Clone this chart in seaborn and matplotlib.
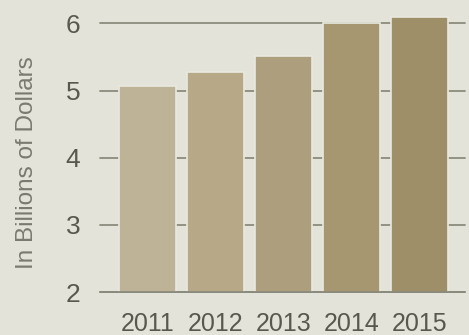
import matplotlib
matplotlib.use("Agg")
import matplotlib.pyplot as plt
import seaborn as sns
import pandas as pd

years = ["2011", "2012", "2013", "2014", "2015"]
values = [5.07, 5.28, 5.52, 6.0, 6.1]
bar_colors = ["#bfb397", "#b7a988", "#ad9f7d", "#a69771", "#9e8f68"]
y_ticks = [2, 3, 4, 5, 6]

df = pd.DataFrame({"year": years, "value": values})

sns.set_theme(style="white")
plt.rcParams["font.family"] = ["Liberation Sans", "DejaVu Sans"]

bg = "#e3e3da"
fig = plt.figure(figsize=(4.69, 3.35), dpi=100, facecolor=bg)
ax = fig.add_axes([0.213, 0.128, 0.778, 0.842])
ax.set_facecolor(bg)

sns.barplot(data=df, x="year", y="value", hue="year", palette=bar_colors,
            legend=False, width=0.84, ax=ax, edgecolor="#e9e9de",
            linewidth=1.2, saturation=1, zorder=2)

for t in y_ticks:
    ax.axhline(t, color="#8b8b7d", lw=1.3, zorder=1, clip_on=False)
ax.axhline(2, color="#8b8b7d", lw=1.3, zorder=3, clip_on=False)

ax.set_ylim(2, 6.2)
ax.set_xlim(-0.7, 4.66)
ax.set_yticks(y_ticks)
ax.set_yticklabels([str(t) for t in y_ticks])
for s in ax.spines.values():
    s.set_visible(False)
ax.tick_params(axis="y", length=0, pad=14, labelsize=19, labelcolor="#58584f")
ax.tick_params(axis="x", length=0, pad=14, labelsize=18, labelcolor="#58584f")
ax.set_xlabel("")
ax.set_ylabel("In Billions of Dollars", fontsize=17.5, color="#7a7a70")
ax.yaxis.set_label_coords(-0.17, 0.46)

fig.savefig("out.png", dpi=100, facecolor=bg)
